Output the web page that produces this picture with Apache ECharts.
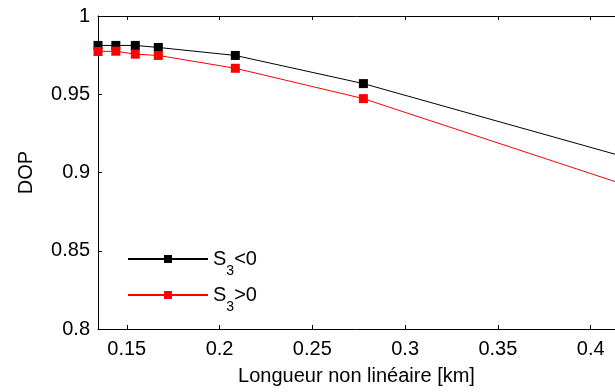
<!DOCTYPE html>
<html>
<head>
<meta charset="utf-8">
<script src="https://cdn.jsdelivr.net/npm/echarts@6/dist/echarts.min.js"></script>
<style>html,body{margin:0;padding:0;background:#fff}#c{width:615px;height:392px}</style>
</head>
<body>
<div id="c"></div>
<script>
// Data
const xValues = [0.1345, 0.1441, 0.1546, 0.1670, 0.2085, 0.2775, 0.4200];
const dopNeg = [0.9812, 0.9812, 0.9812, 0.9799, 0.9748, 0.9568, 0.9094];
const dopPos = [0.9773, 0.9775, 0.9756, 0.9748, 0.9666, 0.9472, 0.8915];
const xTicks = [0.15, 0.2, 0.25, 0.3, 0.35, 0.4];
const seriesNames = ['S3<0', 'S3>0'];
const xMin = 0.1345, xMax = 0.4131;

const font = 'Liberation Sans, Arial, sans-serif';
function pairs(xs, ys){ return xs.map((x,i)=>[x, ys[i]]); }

const chart = echarts.init(document.getElementById('c'));
chart.setOption({
  animation: false,
  backgroundColor: '#fff',
  grid: {left: 98, right: 0, top: 16, bottom: 63},
  legend: {
    left: 127, top: 240, orient: 'vertical', padding: 0,
    itemWidth: 80, itemHeight: 10, itemGap: -2,
    data: seriesNames,
    formatter: function(n){ return '{s|S}{sub|3}{s|' + (n.indexOf('<')>=0 ? '<0' : '>0') + '}'; },
    textStyle: {
      color: '#000', fontFamily: font, fontSize: 20,
      rich: {
        s: {fontSize: 20, lineHeight: 22, fontFamily: font, color: '#000'},
        sub: {fontSize: 14, lineHeight: 14, padding: [24,0,0,0], fontFamily: font, color: '#000'}
      }
    }
  },
  xAxis: [{
    type: 'value', min: xMin, max: xMax, position: 'bottom',
    name: 'Longueur non linéaire [km]', nameLocation: 'middle', nameGap: 37,
    nameTextStyle: {color: '#000', fontSize: 20, fontFamily: font},
    axisLine: {show: true, onZero: false, lineStyle: {color: '#000', width: 1}},
    axisTick: {show: true, inside: true, length: 4, customValues: xTicks, lineStyle: {color: '#000'}},
    axisLabel: {show: true, customValues: xTicks, margin: 10, color: '#000', fontSize: 20, fontFamily: font,
      formatter: v => String(+v.toFixed(2))},
    splitLine: {show: false}
  }, {
    type: 'value', min: xMin, max: xMax, position: 'top',
    axisLine: {show: true, onZero: false, lineStyle: {color: '#000', width: 1}},
    axisTick: {show: true, inside: true, length: 4, customValues: xTicks, lineStyle: {color: '#000'}},
    axisLabel: {show: false},
    splitLine: {show: false}
  }],
  yAxis: {
    type: 'value', min: 0.8, max: 1, interval: 0.05,
    name: 'DOP', nameLocation: 'middle', nameGap: 62,
    nameTextStyle: {color: '#000', fontSize: 20, fontFamily: font},
    axisLine: {show: true, lineStyle: {color: '#000', width: 1}},
    axisTick: {show: true, inside: true, length: 4, lineStyle: {color: '#000'}},
    axisLabel: {margin: 8, color: '#000', fontSize: 20, fontFamily: font,
      formatter: v => String(+v.toFixed(2))},
    splitLine: {show: false}
  },
  series: [{
    name: seriesNames[0], type: 'line', data: pairs(xValues, dopNeg), clip: false,
    symbol: 'rect', symbolSize: 9, showAllSymbol: true,
    lineStyle: {color: '#000', width: 1}, itemStyle: {color: '#000'}
  }, {
    name: seriesNames[1], type: 'line', data: pairs(xValues, dopPos), clip: false,
    symbol: 'rect', symbolSize: 9, showAllSymbol: true,
    lineStyle: {color: '#ff0000', width: 1}, itemStyle: {color: '#ff0000'}
  }]
});
</script>
</body>
</html>
